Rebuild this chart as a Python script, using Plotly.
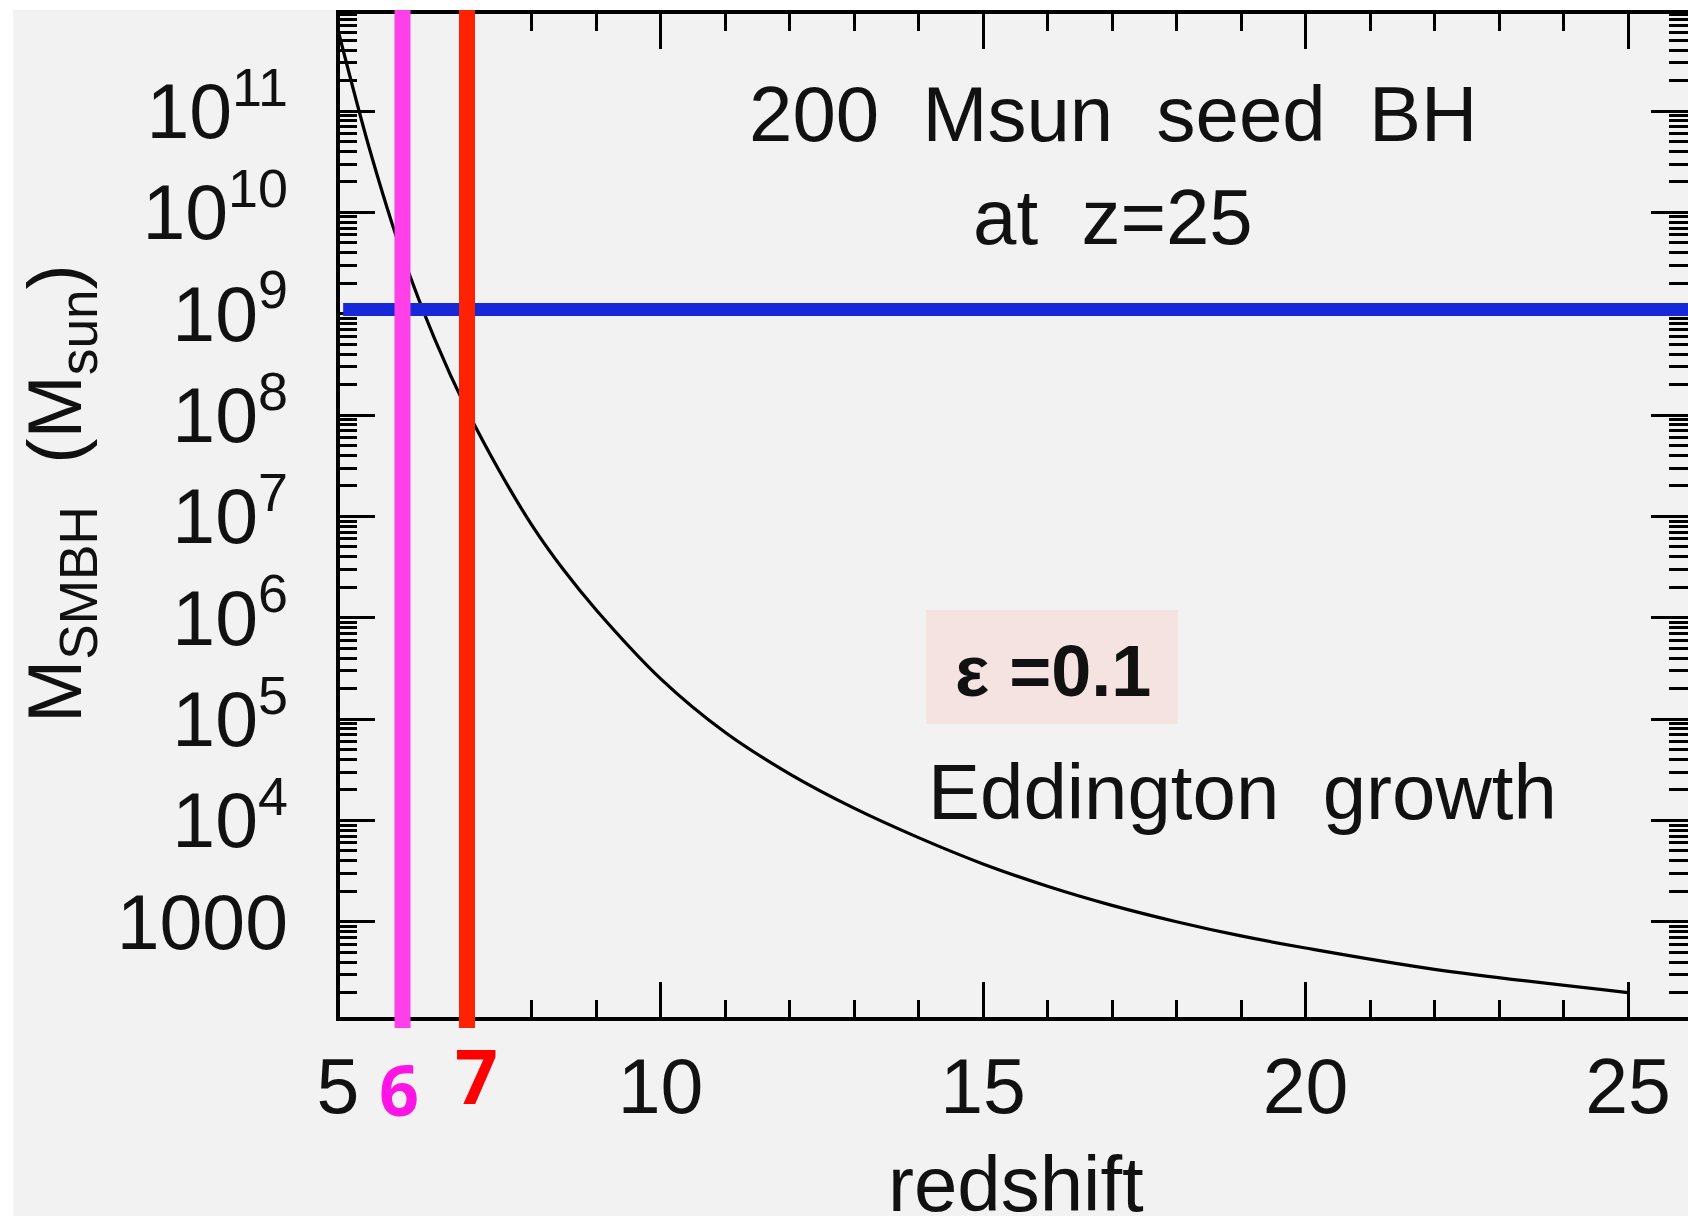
import plotly.graph_objects as go

# Eddington-limited growth of a 200 Msun seed black hole that starts at z = 25
redshift = [5.0, 5.5, 6.0, 6.5, 7.0, 7.5, 8.0, 8.5, 9.0, 10.0, 11.0, 12.0,
            13.0, 14.0, 15.0, 16.0, 17.0, 18.0, 19.0, 20.0, 22.0, 25.0]
mass_smbh = [6.3e11, 3.98e10, 3.8e9, 5.62e8, 1.12e8, 2.82e7, 8.3e6, 2.95e6,
             1.2e6, 2.51e5, 7.41e4, 2.88e4, 1.32e4, 6.76e3, 3.72e3, 2.24e3,
             1.45e3, 1000, 724, 550, 339, 200]

# quasar-mass reference level and the two marked redshifts
quasar_mass = 1.1e9
marked_z = [6, 7]
marked_labels = ["6", "7"]

# axis ticks
x_ticks = [5, 10, 15, 20, 25]
x_ticktext = ["5", "10", "15", "20", "25"]
y_ticks = [1e3, 1e4, 1e5, 1e6, 1e7, 1e8, 1e9, 1e10, 1e11]
y_ticktext = ["1000", "10<sup>4</sup>", "10<sup>5</sup>", "10<sup>6</sup>",
              "10<sup>7</sup>", "10<sup>8</sup>", "10<sup>9</sup>",
              "10<sup>10</sup>", "10<sup>11</sup>"]

# figure geometry in pixels
W, H = 1688, 1216
L, R, T, B = 338, 0, 12, 197
PW, PH = W - L - R, H - T - B


def px(x, y):
    """pixel position -> paper coordinates"""
    return (x - L) / PW, (H - B - y) / PH


BG = "#f2f2f2"
INK = "#111111"
FONT = "Liberation Sans, Arial, sans-serif"

y_minor = [k * 10 ** n for n in range(2, 12) for k in range(2, 10)]

fig = go.Figure()

fig.add_trace(go.Scatter(
    x=redshift, y=mass_smbh, mode="lines",
    line=dict(color="black", width=3.2, shape="spline", smoothing=1.0),
    hoverinfo="skip", showlegend=False,
))

fig.add_trace(go.Scatter(
    x=[5.08, 25.95], y=[quasar_mass, quasar_mass], mode="lines",
    line=dict(color="#1628d8", width=13),
    hoverinfo="skip", showlegend=False,
))

shapes = []
# white border strips along the top and left edges of the image
x0p, _ = px(0, 0)
x13p, _ = px(13, 0)
_, ytop = px(0, 0)
_, ybot = px(0, H)
_, y10 = px(0, 10)
shapes.append(dict(type="rect", xref="paper", yref="paper", x0=x0p, x1=x13p,
                   y0=ybot, y1=ytop, fillcolor="white", line_width=0, layer="below"))
shapes.append(dict(type="rect", xref="paper", yref="paper", x0=x0p, x1=1.01,
                   y0=y10, y1=ytop, fillcolor="white", line_width=0, layer="below"))

# frame: left, bottom and top axis lines
for (xa, xb, ya, yb) in [(0, 0, -0.002, 1.002), (0, 1.01, 0, 0), (0, 1.01, 1, 1)]:
    shapes.append(dict(type="line", xref="paper", yref="paper", x0=xa, x1=xb,
                       y0=ya, y1=yb, line=dict(color="black", width=4), layer="above"))

# efficiency label box
bx0, by0 = px(926, 724)
bx1, by1 = px(1178, 610)
shapes.append(dict(type="rect", xref="paper", yref="paper", x0=bx0, x1=bx1,
                   y0=by0, y1=by1, fillcolor="#f5e3e1", line_width=0, layer="below"))

# vertical markers at z = 6 and z = 7
marker_colors = ["#ff40e8", "#ff2200"]
_, vy0 = px(0, 1028)
for z, c in zip(marked_z, marker_colors):
    shapes.append(dict(type="line", xref="x", yref="paper", x0=z, x1=z,
                       y0=vy0, y1=y10, line=dict(color=c, width=16), layer="above"))

annotations = []


def note(text, x, y, size=78, color=INK, family=FONT, **kw):
    ax_, ay_ = px(x, y)
    annotations.append(dict(text=text, x=ax_, y=ay_, xref="paper", yref="paper",
                            showarrow=False, xanchor="center", yanchor="middle",
                            font=dict(size=size, color=color, family=family), **kw))


note("200  Msun  seed  BH", 1113, 114)
note("at  z=25", 1113, 217)
note("Eddington  growth", 1242, 792)
note("<b>ε =0.1</b>", 1053, 671, size=72)
note("<b>%s</b>" % marked_labels[0], 399, 1089, size=70, color="#ff14e6",
     family="Open Sans, sans-serif")
note("<b>%s</b>" % marked_labels[1], 476, 1075, size=75, color="#ff0000",
     family="Open Sans, sans-serif")
note("redshift", 1016, 1184)
note("M<sub>SMBH</sub>  (M<sub>sun</sub>)", 60, 494, size=76, textangle=-90)

fig.update_layout(
    width=W, height=H,
    margin=dict(l=L, r=R, t=T, b=B, pad=0),
    paper_bgcolor=BG, plot_bgcolor=BG,
    font=dict(family=FONT, size=76, color=INK),
    shapes=shapes, annotations=annotations,
    showlegend=False,
)

fig.update_xaxes(
    range=[5, 25.93], showline=False, mirror="ticks", zeroline=False, showgrid=False,
    ticks="inside", ticklen=37, tickwidth=3, tickcolor="black",
    tickmode="array", tickvals=x_ticks, ticktext=x_ticktext,
    tickfont=dict(size=77, color=INK, family=FONT), ticklabelstandoff=16,
    minor=dict(ticks="inside", ticklen=19, tickwidth=3, tickcolor="black",
               dtick=1, tick0=5, showgrid=False),
    layer="below traces",
)

fig.update_yaxes(
    type="log", range=[2.04, 11.977], showline=False, mirror="ticks",
    zeroline=False, showgrid=False,
    ticks="inside", ticklen=37, tickwidth=3, tickcolor="black",
    tickmode="array", tickvals=y_ticks, ticktext=y_ticktext,
    tickfont=dict(size=77, color=INK, family=FONT), ticklabelstandoff=49,
    minor=dict(ticks="inside", ticklen=19, tickwidth=3, tickcolor="black",
               tickmode="array", tickvals=y_minor, showgrid=False),
    layer="below traces",
)

fig.write_html("out.html")
